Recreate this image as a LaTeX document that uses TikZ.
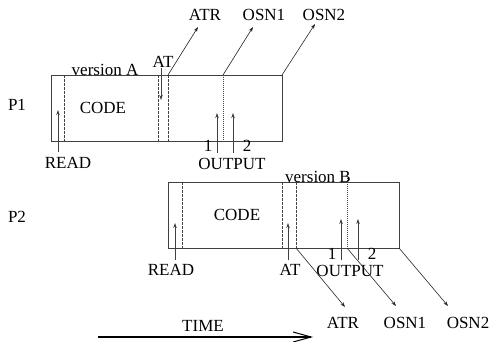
\documentclass[tikz,border=0pt]{standalone}
\usepackage{fontspec}
\setmainfont{Liberation Serif}
\usetikzlibrary{arrows.meta}
\begin{document}
\begin{tikzpicture}[x=1pt,y=-1pt,
  lbl/.style={inner sep=0pt,font=\fontsize{17}{20}\selectfont},
  boxln/.style={draw=black!75,line width=0.9pt},
  dashln/.style={draw=black!75,line width=0.8pt,dash pattern=on 2.5pt off 1.5pt},
  dotln/.style={draw=black!75,line width=0.6pt,dash pattern=on 1pt off 1pt},
  arr/.style={draw=black!75,line width=0.8pt,-{Stealth[length=5pt,width=3.5pt]}},
  thinarr/.style={draw=black!85,line width=0.6pt,-{Stealth[length=5pt,width=3.5pt]}}]
\useasboundingbox (0,0) rectangle (493,341);

% ---------- P1 ----------
\node[lbl] (p1) at (17,105) {P1};
\draw[boxln] (51,75) rectangle (282,141);
\draw[dashln] (64,75) -- (64,141);
\draw[dashln] (158,75) -- (158,141);
\draw[dashln] (168,75) -- (168,141);
\draw[dotln] (223,75) -- (223,141);
\node[lbl,anchor=base] (verA) at (105,75) {version A};
\node[lbl] (code1) at (103,108) {CODE};
\node[lbl] (read1) at (68,163) {READ};
\node[lbl] (at1) at (163,62) {AT};
\node[lbl] (one1) at (208,146) {1};
\node[lbl] (two1) at (247,146) {2};
\node[lbl] (out1) at (232,164) {OUTPUT};
\node[lbl] (atrT) at (205,15) {ATR};
\node[lbl] (osn1T) at (264,15) {OSN1};
\node[lbl] (osn2T) at (324,15) {OSN2};

\draw[arr] (58,152) -- (58,110);
\draw[arr] (161,68) -- (161,100);
\draw[arr] (217,153) -- (217,113);
\draw[arr] (233,153) -- (233,113);
\coordinate (a1s) at (168,75);  \coordinate (a1e) at (198,27);
\coordinate (o1s) at (223,75);  \coordinate (o1e) at (253,27);
\coordinate (o2s) at (282,75);  \coordinate (o2e) at (315,24);
\draw[thinarr] (a1s) -- (a1e);
\draw[thinarr] (o1s) -- (o1e);
\draw[thinarr] (o2s) -- (o2e);

% ---------- P2 ----------
\node[lbl] (p2) at (17,217) {P2};
\draw[boxln] (168,182) rectangle (399,248);
\draw[dashln] (182,182) -- (182,248);
\draw[dashln] (282,182) -- (282,248);
\draw[dashln] (296,182) -- (296,248);
\draw[dotln] (347,178) -- (347,248);
\node[lbl,anchor=base] (verB) at (318,182) {version B};
\node[lbl] (code2) at (237,215) {CODE};
\node[lbl] (read2) at (171,270) {READ};
\node[lbl] (at2) at (290,270) {AT};
\node[lbl] (one2) at (332,254) {1};
\node[lbl] (two2) at (372,254) {2};
\node[lbl] (out2) at (350,271) {OUTPUT};
\node[lbl] (atrB) at (343,323) {ATR};
\node[lbl] (osn1B) at (405,323) {OSN1};
\node[lbl] (osn2B) at (468,323) {OSN2};

\draw[arr] (175,260) -- (175,223);
\draw[arr] (288,260) -- (288,223);
\draw[arr] (341,260) -- (341,219);
\draw[arr] (358,260) -- (358,219);
\coordinate (a2s) at (296,248);  \coordinate (a2e) at (345,307);
\coordinate (b1s) at (347,248);  \coordinate (b1e) at (396,306);
\coordinate (b2s) at (399,248);  \coordinate (b2e) at (448,306);
\draw[thinarr] (a2s) -- (a2e);
\draw[thinarr] (b1s) -- (b1e);
\draw[thinarr] (b2s) -- (b2e);

% ---------- TIME ----------
\node[lbl] (time) at (203,326) {TIME};
\coordinate (ts) at (98,337);
\coordinate (te) at (313,337);
\draw[line width=1.1pt,-{Straight Barb[length=18pt,width=10pt,line width=1pt]}] (ts) -- (te);
\end{tikzpicture}
\end{document}
